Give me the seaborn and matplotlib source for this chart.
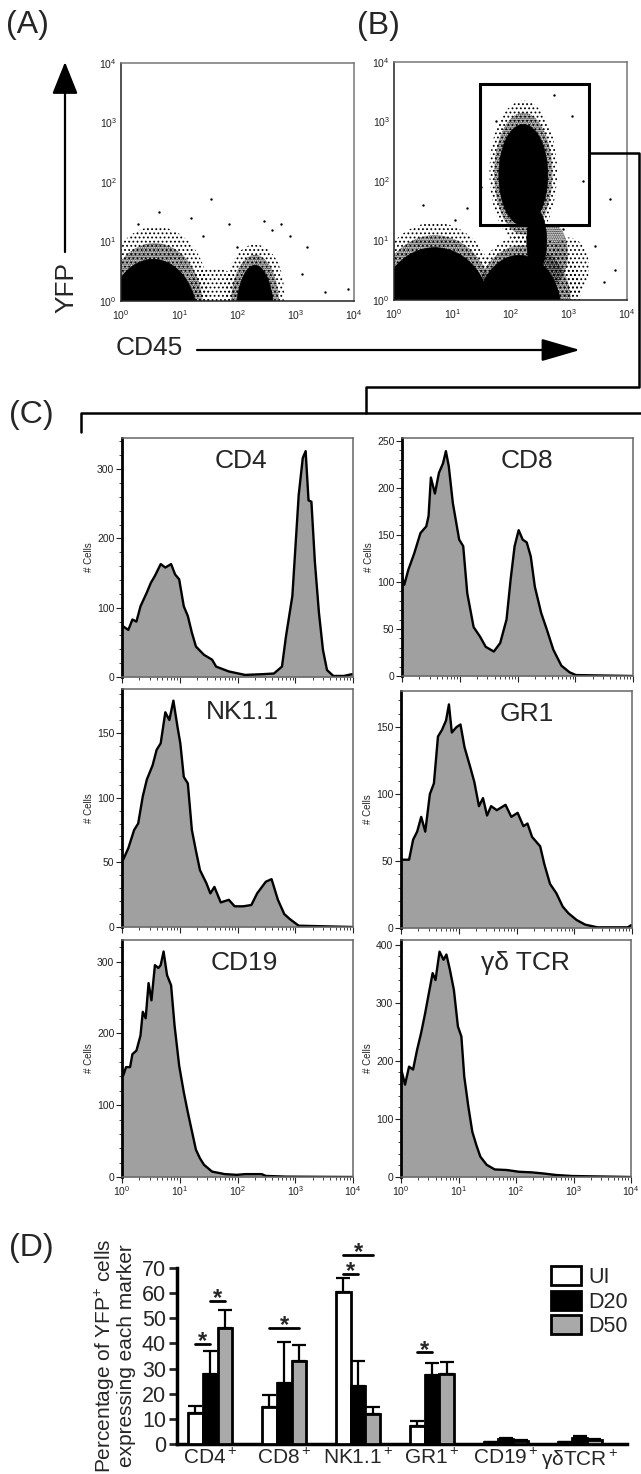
import numpy as np
import pandas as pd
import matplotlib
matplotlib.use('Agg')
import matplotlib.pyplot as plt
import seaborn as sns
from matplotlib.patches import Ellipse, Rectangle, Patch
from matplotlib.ticker import MultipleLocator, LogLocator, FixedLocator, NullFormatter

# ---------- data ----------

# (A)/(B) flow cytometry populations, in log10 units (CD45 on x, YFP on y)
a_core_cx = [0.55, 2.30]
a_core_cy = [-0.30, -0.30]
a_core_wx = [0.76, 0.33]
a_core_wy = [1.00, 0.90]
a_halo_cx = [0.60, 2.30, 1.60]
a_halo_cy = [0.10, 0.15, 0.10]
a_halo_wx = [0.90, 0.50, 0.50]
a_halo_wy = [1.15, 0.80, 0.45]
a_out_x = [1.55, 1.20, 2.60, 2.90, 2.75, 3.20, 3.10, 3.90, 2.00, 1.85, 0.30, 0.65, 2.45, 3.50, 1.40]
a_out_y = [1.72, 1.40, 1.20, 1.10, 1.30, 0.90, 0.45, 0.20, 0.90, 1.30, 1.30, 1.50, 1.35, 0.15, 1.10]

b_core_cx = [0.70, 2.15, 2.22, 2.45]
b_core_cy = [-0.20, -0.20, 2.10, 1.00]
b_core_wx = [0.95, 0.72, 0.42, 0.17]
b_core_wy = [1.08, 0.95, 0.85, 0.50]
b_halo_cx = [0.70, 2.30, 2.22, 3.00]
b_halo_cy = [0.05, 0.15, 2.15, 0.55]
b_halo_wx = [1.05, 0.90, 0.58, 0.35]
b_halo_wy = [1.25, 0.95, 1.20, 0.50]
b_out_x = [1.95, 1.50, 3.25, 3.70, 3.80, 3.60, 1.05, 1.25, 3.05, 2.75, 0.50, 1.75, 3.45, 2.90]
b_out_y = [1.60, 1.90, 2.00, 1.70, 0.50, 0.30, 1.35, 1.55, 3.10, 3.45, 1.60, 3.00, 0.90, 1.20]
gate_x = [1.48, 3.35]
gate_y = [1.26, 3.63]

# (C) histograms: log10 fluorescence and cell counts
cd4_logx = [0.00, 0.02, 0.11, 0.18, 0.25, 0.32, 0.43, 0.50, 0.57, 0.67, 0.75, 0.85, 0.92, 0.99, 1.07, 1.14,
            1.21, 1.28, 1.42, 1.56, 1.63, 1.85, 2.13, 2.42, 2.63, 2.77, 2.84, 2.95, 3.06, 3.13, 3.18, 3.23,
            3.28, 3.34, 3.41, 3.48, 3.55, 3.66, 3.84, 3.98, 4.00]
cd4_n = [75, 73, 68, 83, 80, 102, 122, 136, 146, 163, 158, 163, 148, 141, 102, 88,
         64, 44, 32, 25, 15, 8, 3, 4, 5, 15, 59, 117, 263, 316, 326, 255,
         253, 166, 93, 39, 10, 1.5, 1.5, 4, 4]
cd8_logx = [0.00, 0.04, 0.11, 0.21, 0.32, 0.42, 0.46, 0.50, 0.57, 0.64, 0.71, 0.76, 0.81, 0.88, 0.99, 1.06,
            1.13, 1.24, 1.35, 1.45, 1.59, 1.70, 1.81, 1.88, 1.95, 2.02, 2.09, 2.16, 2.23, 2.30, 2.41, 2.51,
            2.62, 2.76, 2.90, 3.01, 4.00]
cd8_n = [106, 97, 113, 130, 152, 159, 170, 211, 194, 216, 226, 239, 223, 184, 145, 138,
         88, 52, 42, 31, 26, 35, 60, 102, 138, 155, 145, 142, 127, 95, 67, 49,
         28, 11, 4, 1, 0]
nk_logx = [0.00, 0.02, 0.11, 0.21, 0.28, 0.36, 0.43, 0.53, 0.60, 0.67, 0.75, 0.82, 0.89, 0.96, 1.01, 1.07,
           1.14, 1.21, 1.28, 1.35, 1.46, 1.53, 1.60, 1.71, 1.85, 1.95, 2.10, 2.24, 2.34, 2.49, 2.59, 2.70,
           2.81, 2.91, 3.06, 4.00]
nk_n = [55, 52, 61, 75, 80, 101, 114, 125, 137, 142, 166, 160, 175, 155, 142, 116,
        111, 75, 59, 44, 34, 26, 31, 19, 21, 16, 16, 17, 26, 35, 37, 21,
        10, 6, 1, 0]
gr1_logx = [0.00, 0.07, 0.14, 0.21, 0.28, 0.35, 0.42, 0.50, 0.57, 0.64, 0.71, 0.78, 0.83, 0.88, 0.96, 1.03,
            1.10, 1.20, 1.27, 1.35, 1.42, 1.49, 1.56, 1.66, 1.81, 1.91, 2.02, 2.12, 2.19, 2.27, 2.41, 2.48,
            2.58, 2.69, 2.80, 2.90, 3.04, 3.19, 3.40, 3.93, 3.98, 4.00]
gr1_n = [51, 51, 51, 66, 72, 83, 72, 100, 108, 143, 148, 155, 167, 146, 150, 152,
         135, 120, 109, 91, 97, 84, 91, 88, 92, 83, 86, 76, 78, 68, 61, 48,
         33, 26, 16, 11, 6, 2.5, 0.5, 0.5, 2, 2]
cd19_logx = [0.00, 0.02, 0.07, 0.14, 0.18, 0.25, 0.32, 0.36, 0.41, 0.46, 0.51, 0.57, 0.63, 0.67, 0.72, 0.78,
             0.85, 0.91, 0.99, 1.07, 1.14, 1.21, 1.28, 1.35, 1.42, 1.56, 1.78, 1.99, 2.13, 2.42, 2.49, 2.84,
             4.00]
cd19_n = [150, 141, 153, 153, 171, 176, 197, 230, 221, 270, 246, 295, 291, 295, 314, 281,
          267, 211, 155, 118, 90, 64, 38, 26, 17, 7.5, 4, 3, 4, 4, 1.5, 0.5,
          0]
gd_logx = [0.00, 0.02, 0.07, 0.14, 0.21, 0.28, 0.35, 0.42, 0.48, 0.55, 0.60, 0.67, 0.74, 0.79, 0.85, 0.92,
           0.99, 1.05, 1.10, 1.17, 1.24, 1.31, 1.38, 1.49, 1.63, 1.84, 2.05, 2.27, 2.48, 2.69, 2.97, 4.00]
gd_n = [185, 179, 159, 190, 185, 219, 248, 282, 314, 351, 339, 388, 374, 383, 357, 322,
        259, 242, 173, 122, 78, 55, 35, 21, 13, 12, 9, 8, 6, 3.5, 1.7, 0]

hist_names = ['CD4', 'CD8', 'NK1.1', 'GR1', 'CD19', 'γδ TCR']
hist_ymax = [345, 253, 184, 177, 330, 408]
hist_step = [100, 50, 50, 50, 100, 100]

# (D) percentage of YFP+ cells expressing each marker
markers = ['CD4$^+$', 'CD8$^+$', 'NK1.1$^+$', 'GR1$^+$', 'CD19$^+$', 'γδTCR$^+$']
groups = ['UI', 'D20', 'D50']
ui_mean = [12.2, 14.9, 60.4, 7.2, 0.7, 0.7]
ui_err = [3.1, 4.4, 5.7, 2.1, 0.2, 0.2]
d20_mean = [27.8, 24.2, 23.0, 27.5, 1.8, 2.5]
d20_err = [9.0, 16.3, 10.2, 4.6, 0.4, 0.5]
d50_mean = [46.3, 33.2, 11.8, 27.8, 1.3, 1.6]
d50_err = [6.8, 6.1, 3.1, 5.0, 0.3, 0.4]
# significance bars: marker index, from group, to group, height
sig_marker = [0, 0, 1, 2, 2, 3]
sig_from = [0, 1, 0, 0, 0, 0]
sig_to = [1, 2, 2, 1, 2, 1]
sig_y = [39.7, 56.7, 46.0, 67.7, 75.0, 36.4]

# ---------- style ----------
sns.set_style('white')
plt.rcParams['font.family'] = ['Liberation Sans', 'DejaVu Sans']
plt.rcParams['mathtext.fontset'] = 'custom'
plt.rcParams['mathtext.rm'] = 'Liberation Sans'
plt.rcParams['mathtext.it'] = 'Liberation Sans:italic'
plt.rcParams['mathtext.bf'] = 'Liberation Sans:bold'
plt.rcParams['hatch.linewidth'] = 0.8

W, H = 641, 1474
fig = plt.figure(figsize=(W / 100, H / 100), dpi=100)


def box(l, t, r, b):
    return [l / W, 1 - b / H, (r - l) / W, (b - t) / H]


dec_labels = ['$10^{%d}$' % k for k in range(5)]
minor_log = [k + np.log10(m) for k in range(4) for m in range(2, 10)]


def flow_axes(rect, core, halo, outliers):
    ax = fig.add_axes(rect)
    ax.set_xlim(0, 4)
    ax.set_ylim(0, 4)
    # sparse outer halo, denser inner halo, then solid core
    for cx, cy, wx, wy in zip(*halo):
        ax.add_patch(Ellipse((cx, cy), 2 * wx, 2 * wy, facecolor='none', edgecolor='black',
                             lw=0, hatch='....'))
    for (cx, cy, wx, wy), (kx, ky, kwx, kwy) in zip(zip(*halo), zip(*core)):
        ax.add_patch(Ellipse(((cx + kx) / 2, (cy + ky) / 2), wx + kwx, wy + kwy, facecolor='none',
                             edgecolor='black', lw=0, hatch='.........'))
    for cx, cy, wx, wy in zip(*core):
        ax.add_patch(Ellipse((cx, cy), 2 * wx, 2 * wy, facecolor='black', edgecolor='black', lw=0.5))
    sns.scatterplot(x=outliers[0], y=outliers[1], ax=ax, s=3, color='black', linewidth=0)
    for a in (ax.xaxis, ax.yaxis):
        a.set_major_locator(FixedLocator(range(5)))
        a.set_minor_locator(FixedLocator(minor_log))
        a.set_minor_formatter(NullFormatter())
    ax.set_xticklabels(dec_labels)
    ax.set_yticklabels(dec_labels)
    ax.tick_params(which='major', direction='in', length=4, width=0.8, labelsize=7.5, colors='#222222')
    ax.tick_params(axis='x', which='major', pad=5)
    ax.tick_params(axis='y', which='major', pad=3)
    ax.tick_params(which='minor', direction='in', length=2, width=0.6, colors='#222222')
    for s in ax.spines.values():
        s.set_color('#777777')
        s.set_linewidth(1.1)
    ax.spines['left'].set_color('#222222')
    ax.spines['bottom'].set_color('#222222')
    return ax


ax_a = flow_axes(box(121, 63, 354, 301),
                 (a_core_cx, a_core_cy, a_core_wx, a_core_wy),
                 (a_halo_cx, a_halo_cy, a_halo_wx, a_halo_wy),
                 (a_out_x, a_out_y))
ax_b = flow_axes(box(394, 62, 627, 300),
                 (b_core_cx, b_core_cy, b_core_wx, b_core_wy),
                 (b_halo_cx, b_halo_cy, b_halo_wx, b_halo_wy),
                 (b_out_x, b_out_y))
ax_b.add_patch(Rectangle((gate_x[0], gate_y[0]), gate_x[1] - gate_x[0], gate_y[1] - gate_y[0],
                         fill=False, edgecolor='black', lw=2.2, zorder=5))

# ---------- (C) histograms ----------
hist_x = [cd4_logx, cd8_logx, nk_logx, gr1_logx, cd19_logx, gd_logx]
hist_n = [cd4_n, cd8_n, nk_n, gr1_n, cd19_n, gd_n]
hist_boxes = [(122, 438, 353, 677), (402, 438, 633, 676),
              (122, 689, 353, 927), (401, 691, 632, 928),
              (122, 940, 353, 1177), (401, 940, 631, 1177)]
hist_title_x = [0.515, 0.54, 0.52, 0.545, 0.53, 0.54]

for i, name in enumerate(hist_names):
    ax = fig.add_axes(box(*hist_boxes[i]))
    x = 10 ** np.array(hist_x[i])
    n = np.array(hist_n[i], dtype=float)
    ax.fill_between(x, n, 0, color='#a0a0a0', lw=0)
    sns.lineplot(x=x, y=n, ax=ax, color='black', lw=1.7, sort=False, estimator=None)
    ax.set_xscale('log')
    ax.set_xlim(1, 1e4)
    ax.set_ylim(0, hist_ymax[i])
    ax.xaxis.set_major_locator(FixedLocator([1, 10, 100, 1000, 10000]))
    ax.xaxis.set_minor_locator(LogLocator(base=10, subs=range(2, 10)))
    ax.xaxis.set_minor_formatter(NullFormatter())
    if i >= 4:
        ax.set_xticklabels(dec_labels)
    else:
        ax.set_xticklabels([])
    ax.yaxis.set_major_locator(MultipleLocator(hist_step[i]))
    ax.yaxis.set_minor_locator(MultipleLocator(hist_step[i] / 5))
    ax.tick_params(which='major', direction='out', length=4, width=0.8, labelsize=7.5, pad=1.5,
                   colors='#222222', bottom=True, left=True)
    ax.tick_params(which='minor', direction='out', length=2.2, width=0.6, colors='#222222',
                   bottom=True, left=True)
    ax.set_xlabel('')
    ax.set_ylabel('# Cells', fontsize=7, labelpad=2)
    for s in ax.spines.values():
        s.set_color('#666666')
        s.set_linewidth(1.1)
    ax.spines['left'].set_color('black')
    ax.spines['left'].set_linewidth(2.0)
    ax.text(hist_title_x[i], 0.905, name, transform=ax.transAxes, ha='center', va='center', fontsize=19)

# ---------- (D) bar chart ----------
axd = fig.add_axes(box(177, 1268, 627, 1444))
bar_df = pd.DataFrame({
    'marker': markers * 3,
    'group': [g for g in groups for _ in markers],
    'value': ui_mean + d20_mean + d50_mean,
})
bar_colors = {'UI': 'white', 'D20': 'black', 'D50': '#a9a9a9'}
sns.barplot(data=bar_df, x='marker', y='value', hue='group', order=markers, hue_order=groups,
            palette=bar_colors, width=0.6, saturation=1, edgecolor='black', linewidth=2,
            errorbar=None, legend=False, ax=axd, zorder=3)
means = [ui_mean, d20_mean, d50_mean]
errs = [ui_err, d20_err, d50_err]
for j in range(3):
    xs = np.arange(len(markers)) + (j - 1) * 0.2
    axd.errorbar(xs, means[j], yerr=[np.zeros(len(markers)), errs[j]], fmt='none', ecolor='black',
                 elinewidth=1.6, capsize=5, capthick=1.6, zorder=2)
for m, a, b, y in zip(sig_marker, sig_from, sig_to, sig_y):
    x0 = m + (a - 1) * 0.2
    x1 = m + (b - 1) * 0.2
    axd.plot([x0, x1], [y, y], color='black', lw=2, clip_on=False, zorder=4)
    axd.text((x0 + x1) / 2, y - 3.6, '*', ha='center', va='bottom', fontsize=17, fontweight='bold',
             clip_on=False)
axd.set_xlim(-0.45, 5.64)
axd.set_ylim(0, 70)
axd.yaxis.set_major_locator(MultipleLocator(10))
axd.set_xlabel('')
axd.set_ylabel('Percentage of YFP$^{+}$ cells\nexpressing each marker', fontsize=15, labelpad=4,
               linespacing=1.0)
axd.tick_params(axis='y', direction='out', length=6, width=2, labelsize=15.5, pad=2, left=True)
axd.tick_params(axis='x', length=0, labelsize=15, pad=3)
sns.despine(ax=axd)
axd.spines['left'].set_linewidth(2.5)
axd.spines['bottom'].set_linewidth(2.5)
axd.spines['left'].set_color('black')
axd.spines['bottom'].set_color('black')

handles = [Patch(facecolor=bar_colors[g], edgecolor='black', linewidth=2, label=g) for g in groups]
fig.legend(handles=handles, loc='upper left', bbox_to_anchor=(551 / W, 1 - 1266 / H), fontsize=15.5,
           frameon=False, handlelength=1.4, handleheight=1.0, labelspacing=0.12, handletextpad=0.35,
           borderpad=0, borderaxespad=0)

# ---------- annotation layer (arrows, brackets, panel labels) ----------
ov = fig.add_axes([0, 0, 1, 1])
ov.set_xlim(0, W)
ov.set_ylim(H, 0)
ov.axis('off')
ov.annotate('', xy=(65, 62), xytext=(65, 252),
            arrowprops=dict(arrowstyle='-|>,head_length=1.0,head_width=0.4', mutation_scale=20,
                            lw=1.6, color='black', shrinkA=0, shrinkB=0))
ov.text(66, 287, 'YFP', rotation=90, ha='center', va='center', fontsize=19)
ov.annotate('', xy=(580, 350), xytext=(197, 350),
            arrowprops=dict(arrowstyle='-|>,head_length=1.2,head_width=0.35', mutation_scale=20,
                            lw=1.6, color='black', shrinkA=0, shrinkB=0))
ov.text(116, 348, 'CD45', ha='left', va='center', fontsize=19)

ov.plot([589, 639, 639, 366, 366], [153, 153, 387, 387, 413], color='black', lw=1.8)
ov.plot([81, 81, 641], [432, 413, 413], color='black', lw=1.8)

for lab, x, y in [('(A)', 6, 25), ('(B)', 357, 26), ('(C)', 9, 415), ('(D)', 9, 1248)]:
    ov.text(x, y, lab, ha='left', va='center', fontsize=23)

fig.savefig('out.png', dpi=100)
